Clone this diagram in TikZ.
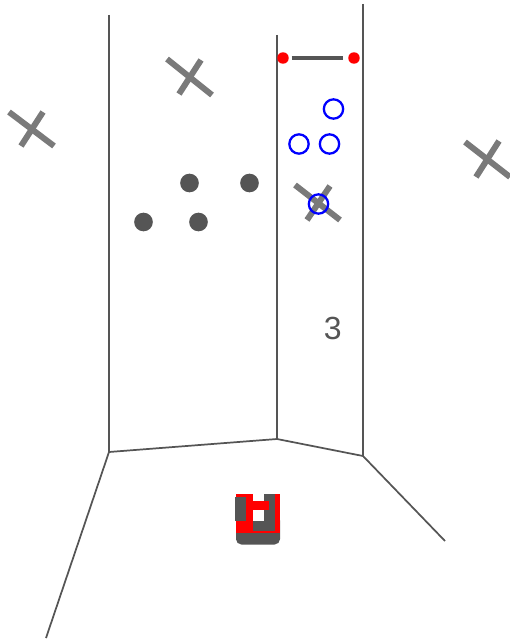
\documentclass[tikz,border=0pt]{standalone}
\usepackage{fontspec}
\setmainfont{Liberation Sans}
\usetikzlibrary{positioning}
\definecolor{wallgray}{HTML}{555555}
\definecolor{crossgray}{HTML}{7A7A7A}
\begin{document}
\begin{tikzpicture}[x=0.75pt, y=-0.75pt,
    wall/.style={draw=wallgray, line width=1.3pt},
    crossarm/.style={draw=crossgray, line width=4.5pt},
    seenbar/.style={draw=wallgray, line width=3.4pt},
    dotnode/.style={circle, fill=wallgray, inner sep=0pt, minimum size=14pt},
    ringnode/.style={circle, draw=blue, line width=1.7pt, inner sep=0pt, minimum size=14.5pt},
    endnode/.style={circle, fill=red, inner sep=0pt, minimum size=8.6pt}]
    \useasboundingbox (0,0) rectangle (510,642);

    % walls and floor
    \coordinate (wallAtop) at (109,15);
    \coordinate (wallAfoot) at (109,452);
    \coordinate (wallBtop) at (277,35);
    \coordinate (wallBfoot) at (277,439);
    \coordinate (wallCtop) at (363,4);
    \coordinate (wallCfoot) at (363,456);
    \coordinate (floorL) at (46,638);
    \coordinate (floorR) at (445,541);
    \draw[wall] (wallAtop) -- (wallAfoot);
    \draw[wall] (wallBtop) -- (wallBfoot);
    \draw[wall] (wallCtop) -- (wallCfoot);
    \draw[wall] (wallAfoot) -- (wallBfoot);
    \draw[wall] (wallBfoot) -- (wallCfoot);
    \draw[wall] (wallAfoot) -- (floorL);
    \draw[wall] (wallCfoot) -- (floorR);

    % crosses
    \draw[crossarm] (9,112) -- (54,146);
    \draw[crossarm] (43,112) -- (21,146);
    \draw[crossarm] (167,59) -- (212,95);
    \draw[crossarm] (201,60) -- (179,94);
    \draw[crossarm] (295,185) -- (340,220);
    \draw[crossarm] (330,186) -- (307,220);
    \draw[crossarm] (465,142) -- (510,177);
    \draw[crossarm] (499,141) -- (476,177);

    % dots
    \node (dotA) [dotnode] at (189.5,183) {};
    \node (dotB) [dotnode] at (249.5,183) {};
    \node (dotC) [dotnode] at (143.5,222) {};
    \node (dotD) [dotnode] at (198.5,222) {};

    % rings
    \node (ringA) [ringnode] at (333.5,109) {};
    \node (ringB) [ringnode] at (299,144) {};
    \node (ringC) [ringnode] at (329.5,144) {};
    \node (ringD) [ringnode] at (318.5,204) {};

    % bar with red ends
    \node (endL) [endnode] at (283,58) {};
    \node (endR) [endnode] at (354,58) {};
    \draw[seenbar, shorten <=2pt, shorten >=3.5pt] (endL) -- (endR);

    \node (count) [text=wallgray, font=\fontsize{24}{24}\selectfont] at (332.7,328) {3};

    % robot
    \fill[wallgray, rounded corners=4pt] (236,515) rectangle (280,544.5);
    \fill[red] (236,494) rectangle (280,532.5);
    \fill[wallgray] (235,497) rectangle (246,521);
    \fill[white] (253,494) rectangle (264,501);
    \fill[wallgray] (264,494) rectangle (275,501);
    \fill[wallgray] (269,501) rectangle (275,531);
    \fill[white] (253,510) rectangle (264,521);
    \fill[wallgray] (264,510) rectangle (269,531);
    \fill[wallgray] (253,521) rectangle (269,531);
\end{tikzpicture}
\end{document}
